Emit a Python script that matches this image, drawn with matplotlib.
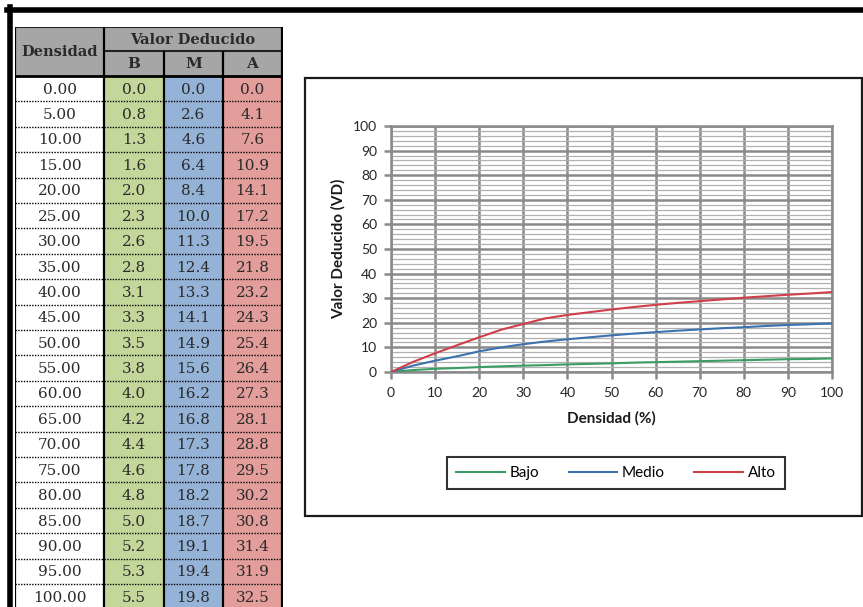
import matplotlib
matplotlib.use("Agg")
import matplotlib.pyplot as plt
from matplotlib.patches import Rectangle
from matplotlib.lines import Line2D

densidad = [0, 5, 10, 15, 20, 25, 30, 35, 40, 45, 50, 55, 60, 65, 70, 75, 80, 85, 90, 95, 100]
bajo = [0.0, 0.8, 1.3, 1.6, 2.0, 2.3, 2.6, 2.8, 3.1, 3.3, 3.5, 3.8, 4.0, 4.2, 4.4, 4.6, 4.8, 5.0, 5.2, 5.3, 5.5]
medio = [0.0, 2.6, 4.6, 6.4, 8.4, 10.0, 11.3, 12.4, 13.3, 14.1, 14.9, 15.6, 16.2, 16.8, 17.3, 17.8, 18.2, 18.7, 19.1, 19.4, 19.8]
alto = [0.0, 4.1, 7.6, 10.9, 14.1, 17.2, 19.5, 21.8, 23.2, 24.3, 25.4, 26.4, 27.3, 28.1, 28.8, 29.5, 30.2, 30.8, 31.4, 31.9, 32.5]
sub_headers = ["B", "M", "A"]
series_names = ["Bajo", "Medio", "Alto"]

W, H = 863, 607


def box(x0, y0, x1, y1):
    # pixel box (top-left origin) -> figure fraction rect
    return [x0 / W, 1 - y1 / H, (x1 - x0) / W, (y1 - y0) / H]


fig = plt.figure(figsize=(W / 100, H / 100), dpi=100)
fig.patch.set_facecolor("white")

# ---------------- table ----------------
ax_t = fig.add_axes(box(15, 27, 283, 607))
ax_t.set_xlim(15, 283)
ax_t.set_ylim(607, 27)
ax_t.axis("off")

col_edges = [15, 104, 164, 223, 282]
col_colors = ["white", "#c4d79b", "#95b3d7", "#e39e9c"]
head_top, head_mid, head_bot = 27, 51, 76
row_h = 25.4
serif = "DejaVu Serif"
txt_col = "#2a2a2a"

ax_t.add_patch(Rectangle((col_edges[0], head_top), col_edges[-1] - col_edges[0],
                         head_bot - head_top, facecolor="#a6a6a6", edgecolor="none"))
ax_t.text((col_edges[0] + col_edges[1]) / 2, (head_top + head_bot) / 2, "Densidad",
          ha="center", va="center", fontsize=10.5, fontweight="bold", family=serif, color=txt_col)
ax_t.text((col_edges[1] + col_edges[-1]) / 2, (head_top + head_mid) / 2 + 1, "Valor Deducido",
          ha="center", va="center", fontsize=10.5, fontweight="bold", family=serif, color=txt_col)
for j, h in enumerate(sub_headers):
    ax_t.text((col_edges[j + 1] + col_edges[j + 2]) / 2, (head_mid + head_bot) / 2 + 1, h,
              ha="center", va="center", fontsize=11, fontweight="bold", family=serif, color=txt_col)

for i in range(len(densidad)):
    y0 = head_bot + i * row_h
    vals = [f"{densidad[i]:.2f}", f"{bajo[i]:.1f}", f"{medio[i]:.1f}", f"{alto[i]:.1f}"]
    for j, v in enumerate(vals):
        ax_t.add_patch(Rectangle((col_edges[j], y0), col_edges[j + 1] - col_edges[j], row_h,
                                 facecolor=col_colors[j], edgecolor="none"))
        ax_t.text((col_edges[j] + col_edges[j + 1]) / 2, y0 + row_h / 2 + 1, v,
                  ha="center", va="center", fontsize=11, family=serif, color=txt_col)
    if i > 0:
        ax_t.hlines(y0, col_edges[0], col_edges[-1], colors="black", linewidth=1,
                    linestyles=(0, (1, 1)))

ax_t.hlines(head_top, col_edges[0], col_edges[-1], colors="#222222", linewidth=1.5)
ax_t.hlines(head_mid, col_edges[1], col_edges[-1], colors="#222222", linewidth=1.5)
ax_t.hlines(head_bot, col_edges[0], col_edges[-1], colors="black", linewidth=2)
ax_t.vlines([col_edges[0], col_edges[1], col_edges[-1]], head_top, 607, colors="black", linewidth=1.6)
ax_t.vlines(col_edges[2:4], head_mid, 607, colors="black", linewidth=1.6)

# outer frame lines
fig.add_artist(Line2D([7 / W, 1], [1 - 9.5 / H, 1 - 9.5 / H], transform=fig.transFigure,
                      color="black", linewidth=4))
fig.add_artist(Line2D([9.5 / W, 9.5 / W], [0, 1 - 7 / H], transform=fig.transFigure,
                      color="black", linewidth=4))

# ---------------- chart ----------------
fig.add_artist(Rectangle((305 / W, 1 - 516 / H), 557 / W, 438 / H, transform=fig.transFigure,
                         fill=False, edgecolor="#1a1a1a", linewidth=1.6))

ax = fig.add_axes(box(391, 126, 832, 372))
sans = "Lato"
colors = ["#3a9d63", "#3c72ad", "#cf3f4a"]
for ys, name, c in zip([bajo, medio, alto], series_names, colors):
    ax.plot(densidad, ys, color=c, linewidth=1.5, label=name, zorder=3)

ax.set_xlim(0, 100)
ax.set_ylim(0, 100)
ax.set_xticks(range(0, 101, 10))
ax.set_yticks(range(0, 101, 10))
ax.set_yticks(range(0, 101, 2), minor=True)
ax.grid(True, which="major", color="#8a8a8a", linewidth=1.8)
ax.grid(True, which="minor", axis="y", color="#b0b0b0", linewidth=0.9)
ax.tick_params(which="major", length=5, width=1.8, color="#8a8a8a", labelsize=10,
               labelcolor="#262626")
ax.tick_params(axis="x", which="major", pad=6)
ax.tick_params(axis="y", which="major", pad=5)
ax.tick_params(which="minor", length=0)
for lab in ax.get_xticklabels() + ax.get_yticklabels():
    lab.set_family(sans)
for s in ax.spines.values():
    s.set_color("#8a8a8a")
    s.set_linewidth(1.8)
ax.set_axisbelow(True)

ax.set_ylabel("Valor Deducido (VD)", fontsize=11, fontweight="bold", family=sans, color="#1a1a1a")
ax.yaxis.set_label_coords((346 - 391) / 441, 0.5)
ax.set_xlabel("Densidad (%)", fontsize=11, fontweight="bold", family=sans, color="#1a1a1a")
ax.xaxis.set_label_coords(0.5, (372 - 411) / 246)

leg = ax.legend(loc="center", bbox_to_anchor=(616 / W, 1 - 473 / H), bbox_transform=fig.transFigure,
                ncol=3, frameon=True, fancybox=False, edgecolor="black", handlelength=3.2,
                columnspacing=1.9, handletextpad=0.3, borderpad=0.6,
                prop={"family": sans, "size": 11})
leg.get_frame().set_linewidth(1.5)

fig.savefig("out.png", dpi=100, facecolor="white")
